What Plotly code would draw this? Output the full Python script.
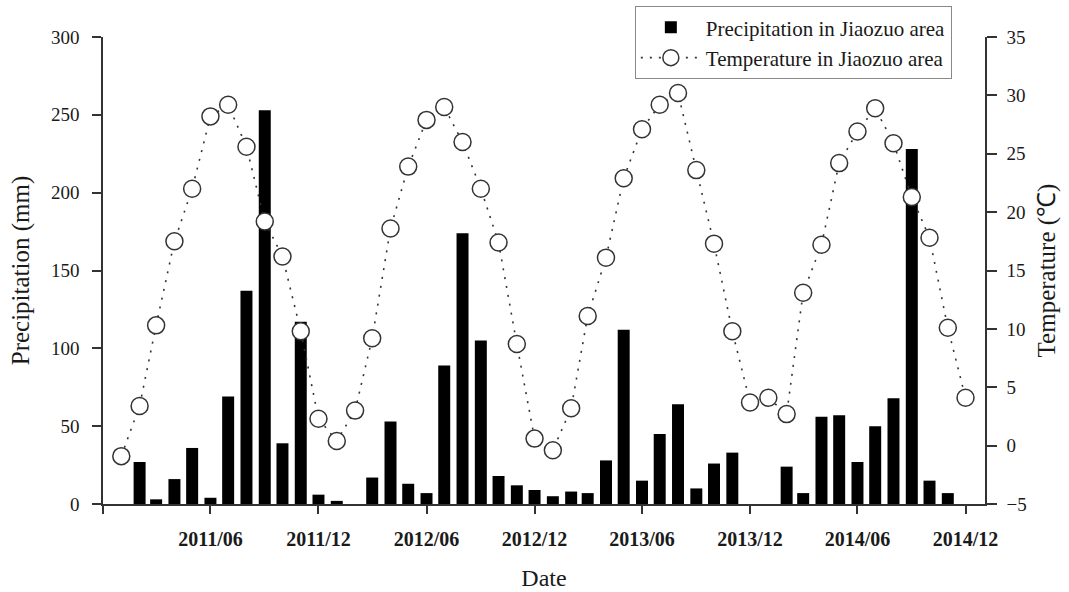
import plotly.graph_objects as go

# ---- data ----
months = [f"{y}-{m:02d}-01" for y in (2011, 2012, 2013, 2014) for m in range(1, 13)]

precipitation = [
    0, 27, 3, 16, 36, 4, 69, 137, 253, 39, 117, 6,      # 2011
    2, 0, 17, 53, 13, 7, 89, 174, 105, 18, 12, 9,       # 2012
    5, 8, 7, 28, 112, 15, 45, 64, 10, 26, 33, 0,        # 2013
    0, 24, 7, 56, 57, 27, 50, 68, 228, 15, 7, 0,        # 2014
]

temperature = [
    -0.9, 3.4, 10.3, 17.5, 22.0, 28.2, 29.2, 25.6, 19.2, 16.2, 9.8, 2.3,   # 2011
    0.4, 3.0, 9.2, 18.6, 23.9, 27.9, 29.0, 26.0, 22.0, 17.4, 8.7, 0.6,     # 2012
    -0.4, 3.2, 11.1, 16.1, 22.9, 27.1, 29.2, 30.2, 23.6, 17.3, 9.8, 3.7,   # 2013
    4.1, 2.7, 13.1, 17.2, 24.2, 26.9, 28.9, 25.9, 21.3, 17.8, 10.1, 4.1,   # 2014
]

x_tick_vals = ["2010-12-01", "2011-06-01", "2011-12-01", "2012-06-01", "2012-12-01",
               "2013-06-01", "2013-12-01", "2014-06-01", "2014-12-01"]
x_tick_text = ["", "2011/06", "2011/12", "2012/06", "2012/12",
               "2013/06", "2013/12", "2014/06", "2014/12"]

left_ticks = [0, 50, 100, 150, 200, 250, 300]
right_ticks = [-5, 0, 5, 10, 15, 20, 25, 30, 35]

FONT = "Liberation Serif"
INK = "#1a1a1a"
AX = "#333333"
DAY_MS = 86400000

fig = go.Figure()

fig.add_trace(go.Bar(
    x=months, y=precipitation,
    name="Precipitation in Jiaozuo area",
    marker=dict(color="black", line=dict(width=0)),
    width=20.3 * DAY_MS,
    yaxis="y",
))

fig.add_trace(go.Scatter(
    x=months, y=temperature,
    name="Temperature in Jiaozuo area",
    mode="lines+markers",
    line=dict(color=AX, width=1.6, dash="2px,7px"),
    marker=dict(symbol="circle", size=17, color="white",
                line=dict(color=AX, width=1.5)),
    yaxis="y2",
))

fig.update_layout(
    width=1069, height=592,
    margin=dict(l=103, r=84, t=37, b=88, autoexpand=False),
    paper_bgcolor="white", plot_bgcolor="white",
    font=dict(family=FONT, color=INK, size=18),
    showlegend=True,
    legend=dict(
        x=0.603, y=1.066, xanchor="left", yanchor="top",
        bgcolor="white", bordercolor="#888888", borderwidth=1,
        font=dict(family=FONT, size=21, color=INK),
        tracegroupgap=0, traceorder="normal",
        itemwidth=60,
    ),
    xaxis=dict(
        type="date",
        range=["2010-12-01", "2015-01-03"],
        tickmode="array", tickvals=x_tick_vals, ticktext=x_tick_text,
        ticks="outside", ticklen=8, tickwidth=1.5, tickcolor=AX,
        showline=True, linecolor=AX, linewidth=1.5,
        showgrid=False, zeroline=False,
        tickfont=dict(family=FONT, size=20, color=INK, weight="bold"),
        ticklabelstandoff=8,
        title=dict(text="Date", font=dict(family=FONT, size=24, color=INK), standoff=20),
        automargin=False,
    ),
    yaxis=dict(
        range=[0, 300],
        tickmode="array", tickvals=left_ticks,
        ticks="outside", ticklen=9, tickwidth=1.5, tickcolor=AX,
        showline=True, linecolor=AX, linewidth=1.5,
        showgrid=False, zeroline=False,
        tickfont=dict(family=FONT, size=19, color=INK),
        ticklabelstandoff=9,
        title=dict(text="Precipitation (mm)", font=dict(family=FONT, size=25, color=INK), standoff=14),
        automargin=False,
    ),
    yaxis2=dict(
        range=[-5, 35], overlaying="y", side="right",
        tickmode="array", tickvals=right_ticks,
        ticks="outside", ticklen=10, tickwidth=1.5, tickcolor=AX,
        showline=True, linecolor=AX, linewidth=1.5,
        showgrid=False, zeroline=False,
        tickfont=dict(family=FONT, size=19, color=INK),
        ticklabelstandoff=6,
        title=dict(text="Temperature (\u2103)", font=dict(family=FONT, size=25, color=INK), standoff=12),
        automargin=False,
    ),
)

fig.write_html("out.html")
